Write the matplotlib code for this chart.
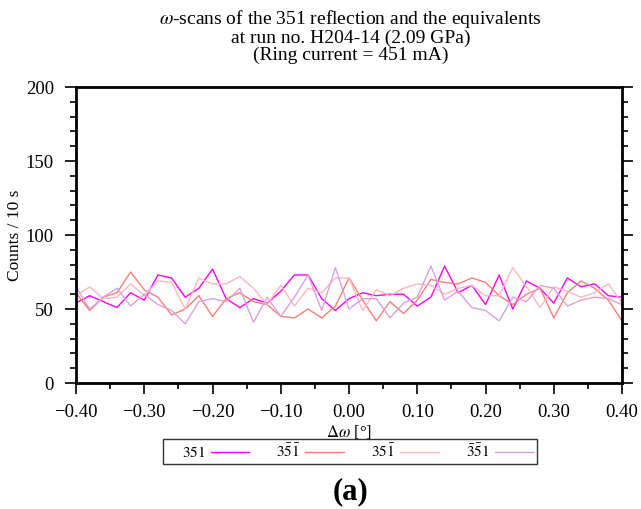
import numpy as np
import matplotlib
matplotlib.use("Agg")
import matplotlib.pyplot as plt
from matplotlib.ticker import MultipleLocator, FuncFormatter

plt.rcParams["font.family"] = ["Liberation Serif", "DejaVu Serif"]
plt.rcParams["mathtext.fontset"] = "stix"

# omega offsets of the scan (deg), 0.02 step
omega = np.linspace(-0.40, 0.40, 41)

# counts / 10 s for the 351 reflection and its equivalents
c_351 = [54, 59, 55, 51, 61, 56, 73, 71, 58, 64, 77, 57, 51, 57, 54, 62, 73, 73, 57, 49, 57,
         61, 59, 60, 60, 52, 58, 79, 61, 66, 53, 73, 50, 69, 64, 54, 71, 65, 67, 59, 58]
c_35b1b = [61, 49, 58, 61, 75, 63, 58, 46, 50, 59, 45, 57, 61, 55, 53, 45, 44, 50, 44, 52, 71,
           56, 42, 55, 47, 56, 70, 68, 67, 71, 68, 59, 53, 60, 64, 44, 61, 69, 64, 56, 42]
c_351b = [59, 65, 57, 58, 67, 59, 69, 68, 50, 71, 67, 67, 72, 64, 53, 66, 52, 64, 61, 71, 71,
          49, 63, 59, 64, 67, 66, 60, 64, 66, 59, 59, 78, 65, 51, 65, 62, 58, 61, 67, 54]
c_3b5b1 = [65, 50, 58, 64, 52, 60, 53, 49, 40, 55, 57, 55, 64, 41, 58, 45, 58, 73, 49, 78, 50,
           57, 57, 44, 54, 58, 79, 56, 62, 51, 49, 42, 58, 55, 66, 64, 52, 56, 58, 57, 53]

series = [
    (c_351, r"$351$", "#ff00ff"),
    (c_35b1b, r"$3\bar{5}\bar{1}$", "#fa8072"),
    (c_351b, r"$35\bar{1}$", "#ffb6c1"),
    (c_3b5b1, r"$\bar{3}\bar{5}1$", "#dda0dd"),
]

fig = plt.figure(figsize=(6.41, 5.09), dpi=100)
ax = fig.add_axes([0.1186, 0.2475, 0.8518, 0.5815])

for vals, label, col in series:
    # leading spaces mimic the gnuplot key padding
    ax.plot(omega, vals, color=col, lw=1.0, label="    " + label)

ax.set_xlim(-0.40, 0.40)
ax.set_ylim(0, 200)
ax.xaxis.set_major_locator(MultipleLocator(0.1))
ax.xaxis.set_minor_locator(MultipleLocator(0.05))
ax.yaxis.set_major_locator(MultipleLocator(50))
ax.yaxis.set_minor_locator(MultipleLocator(10))
ax.xaxis.set_major_formatter(FuncFormatter(lambda v, p: f"{v:.2f}".replace("-", "\u2212")))
ax.tick_params(which="both", direction="out", right=True, labelsize=13.5, width=1.2)
ax.tick_params(axis="x", pad=7)
ax.tick_params(axis="y", pad=8)
ax.tick_params(which="major", length=8)
ax.tick_params(which="minor", length=4)
for sp in ax.spines.values():
    sp.set_linewidth(2)

ax.set_xlabel(r"$\Delta\omega$ [°]", fontsize=12)
ax.xaxis.set_label_coords(0.5, -0.136)
ax.set_ylabel("Counts / 10 s", fontsize=12.5)
ax.yaxis.set_label_coords(-0.097, 0.5)

fig.text(0.5466, 1 - 36 / 509,
         r"$\omega$-scans of the 351 reflection and the equivalents" "\n"
         "at run no. H204-14 (2.09 GPa)\n(Ring current = 451 mA)",
         ha="center", va="center", fontsize=14, linespacing=0.95)

leg = fig.legend(loc="center", bbox_to_anchor=(0.5456, 0.113), ncol=4, markerfirst=False,
                 fancybox=False, edgecolor="black", fontsize=11, handlelength=2.5,
                 columnspacing=0.8, borderpad=0.25, handletextpad=0.35, borderaxespad=0)
leg.get_frame().set_linewidth(1.0)

fig.text(0.5466, 0.033, "(a)", ha="center", va="center", fontsize=22, fontweight="bold")

fig.savefig("out.png", dpi=100)
